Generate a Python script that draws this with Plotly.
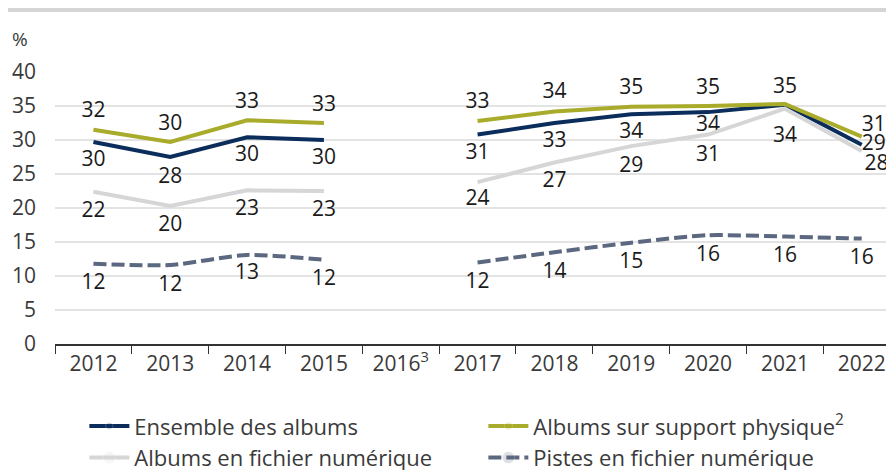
import plotly.graph_objects as go

FONT_FAMILY = "Open Sans"

years = ["2012", "2013", "2014", "2015", "2016<sup>3</sup>", "2017",
         "2018", "2019", "2020", "2021", "2022"]

ensemble = [29.7, 27.5, 30.4, 30.0, None, 30.8, 32.5, 33.8, 34.1, 35.2, 29.3]
physique = [31.5, 29.7, 32.9, 32.5, None, 32.8, 34.2, 34.9, 35.0, 35.3, 30.5]
album_num = [22.4, 20.3, 22.6, 22.5, None, 23.8, 26.7, 29.1, 30.8, 34.6, 28.4]
pistes = [11.8, 11.6, 13.1, 12.4, None, 12.0, 13.5, 14.9, 16.0, 15.8, 15.5]

ensemble_lbl = ["30", "28", "30", "30", "", "31", "33", "34", "34", "", "29"]
physique_lbl = ["32", "30", "33", "33", "", "33", "34", "35", "35", "35", "31"]
album_num_lbl = ["22", "20", "23", "23", "", "24", "27", "29", "31", "34", "28"]
pistes_lbl = ["12", "12", "13", "12", "", "12", "14", "15", "16", "16", "16"]

NAVY = "#0b2d5b"
OLIVE = "#a9ab2b"
LIGHT = "#d6d6d6"
SLATE = "#5b6880"

# invisible marker sizes, only used to push the value labels off the lines
pad_navy = [11, 14, 11, 11, 0, 12, 11, 11, 3, 0, 0]
pad_olive = [10, 10, 10, 10, 0, 11, 11, 11, 9, 7, 0]
pad_light = [13, 13, 13, 13, 0, 10, 13, 14, 16, 27, 3]
pad_slate = [14, 14, 12, 14, 0, 14, 14, 14, 14, 14, 14]


def positions(default, last):
    pos = [default] * len(years)
    pos[-1] = last
    return pos


fig = go.Figure()

fig.add_trace(go.Scatter(
    x=years, y=ensemble, name="Ensemble des albums",
    text=ensemble_lbl, textposition=positions("bottom center", "middle right"),
    marker=dict(size=pad_navy),
    line=dict(color=NAVY, width=4)))
fig.add_trace(go.Scatter(
    x=years, y=physique, name="Albums sur support physique<sup>2</sup>",
    text=physique_lbl, textposition=positions("top center", "top right"),
    marker=dict(size=pad_olive),
    line=dict(color=OLIVE, width=4)))
fig.add_trace(go.Scatter(
    x=years, y=album_num, name="Albums en fichier numérique",
    text=album_num_lbl, textposition=positions("bottom center", "bottom right"),
    marker=dict(size=pad_light),
    line=dict(color=LIGHT, width=4)))
fig.add_trace(go.Scatter(
    x=years, y=pistes, name="Pistes en fichier numérique",
    text=pistes_lbl, textposition="bottom center",
    marker=dict(size=pad_slate),
    line=dict(color=SLATE, width=4, dash="13px,5px", shape="spline",
              smoothing=0.6)))

fig.update_traces(mode="lines+markers+text", marker_opacity=0,
                  textfont=dict(family=FONT_FAMILY, size=21, color="#1a1a1a"),
                  cliponaxis=False, connectgaps=False)

# the page body has an 8px margin, so the figure is shifted by 8px
fig.update_layout(
    width=886, height=462,
    margin=dict(l=47, r=0, t=64, b=126, autoexpand=False),
    paper_bgcolor="white", plot_bgcolor="white",
    font=dict(family=FONT_FAMILY, size=21, color="#3a3a3a"),
    showlegend=True,
    legend=dict(
        orientation="h", x=0.035, xanchor="left", y=-0.225, yanchor="top",
        entrywidth=344, entrywidthmode="pixels", traceorder="normal",
        font=dict(family=FONT_FAMILY, size=22, color="#3a3a3a"),
        itemwidth=40,
    ),
    xaxis=dict(
        type="category", categoryorder="array", categoryarray=years,
        range=[-0.5, 10.42], tickson="boundaries", ticks="outside",
        ticklen=8, tickcolor="#333333", showline=True, linecolor="#333333",
        linewidth=1.5, showgrid=False, tickfont=dict(size=21),
    ),
    yaxis=dict(
        range=[0, 40], dtick=5, showgrid=True, gridcolor="#e3e3e3",
        gridwidth=1.5, zeroline=False, showline=False, ticks="",
        ticklabelstandoff=18, tickfont=dict(size=21),
    ),
    shapes=[dict(type="rect", xref="paper", yref="paper",
                 x0=-0.056, x1=1.0, y0=1.221, y1=1.257,
                 fillcolor="#d4d5d4", line=dict(width=0), layer="below")],
    annotations=[dict(text="%", xref="paper", yref="paper", x=-0.042, y=1.12,
                      xanchor="center", yanchor="middle", showarrow=False,
                      font=dict(size=19, color="#3a3a3a"))],
)

fig.write_html("out.html")
